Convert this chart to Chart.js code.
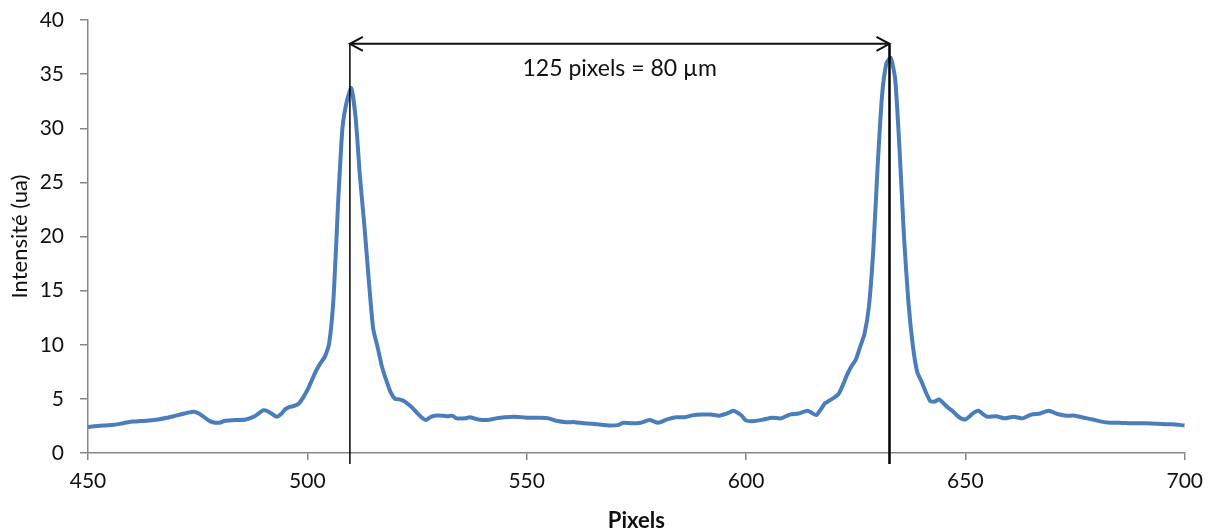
<!DOCTYPE html>
<html>
<head>
<meta charset="utf-8">
<script src="https://cdn.jsdelivr.net/npm/chart.js@4"></script>
<style>
html,body{margin:0;padding:0;background:#fff;}
#wrap{width:1212px;height:532px;}
</style>
</head>
<body>
<div id="wrap"><canvas id="c" width="1212" height="532"></canvas></div>
<script>
// Data
const pixels = [450,452,454,456,458,460,462,464,466,468,470,472,474,475,476,477,478,479,480,481,482,484,486,488,490,491,492,493,494,495,496,497,498,499,500,501,502,503,504,505,506,507,508,509,510,511,512,513,514,515,516,517,518,519,520,521,522,523,524,525,526,527,528,529,531,532,533,534,536,537,539,541,543,545,547,549,551,553,555,557,559,561,563,565,567,569,571,572,574,576,578,580,582,584,586,588,590,592,594,596,597,598,599,600,602,604,606,608,610,612,614,615,616,617,618,619,620,621,622,623,624,625,626,627,628,629,630,631,632,633,634,635,636,637,638,639,640,641,642,643,644,645,646,647,648,649,650,651,652,653,654,655,657,659,661,663,665,667,669,671,673,675,677,679,681,683,685,688,691,694,697,700];
const intensite = [2.4,2.5,2.55,2.6,2.75,2.9,2.95,3.0,3.1,3.25,3.45,3.65,3.8,3.7,3.45,3.15,2.9,2.8,2.8,2.95,3.0,3.05,3.1,3.4,3.95,3.85,3.6,3.35,3.6,4.05,4.25,4.35,4.55,5.1,5.8,6.7,7.6,8.3,8.9,10.2,14.5,23.0,30.0,32.5,33.7,31.0,25.5,21.0,16.0,11.5,9.8,8.0,6.7,5.6,5.0,4.95,4.8,4.5,4.15,3.7,3.3,3.05,3.3,3.45,3.45,3.4,3.45,3.2,3.2,3.3,3.1,3.05,3.2,3.3,3.35,3.3,3.25,3.25,3.2,2.95,2.85,2.85,2.75,2.7,2.6,2.55,2.6,2.8,2.75,2.8,3.05,2.8,3.1,3.3,3.3,3.5,3.55,3.55,3.45,3.7,3.9,3.75,3.45,3.0,2.95,3.1,3.25,3.2,3.55,3.65,3.9,3.7,3.5,4.0,4.6,4.85,5.1,5.4,6.2,7.2,8.0,8.6,9.8,11.0,13.5,18.7,26.5,33.0,36.0,36.5,34.5,28.0,20.0,14.0,10.0,7.5,6.6,5.6,4.8,4.75,4.95,4.6,4.2,3.9,3.5,3.2,3.1,3.4,3.75,3.9,3.6,3.35,3.4,3.2,3.35,3.2,3.55,3.65,3.9,3.6,3.45,3.45,3.25,3.1,2.9,2.8,2.8,2.75,2.75,2.7,2.65,2.55];
const xTicks = [450,500,550,600,650,700];
const yTicks = [0,5,10,15,20,25,30,35,40];
const markerPixels = [509.7, 632.7];
const arrowLevel = [37.8];
const annotationText = ['125 pixels = 80 µm'];

const points = pixels.map((p,i)=>({x:p,y:intensite[i]}));
const FONT = 'Lato, "Open Sans", sans-serif';

const annotPlugin = {
  id:'annot',
  afterDatasetsDraw(chart){
    const {ctx, scales:{x,y}, chartArea} = chart;
    const ay = y.getPixelForValue(arrowLevel[0]);
    const x1 = x.getPixelForValue(markerPixels[0]);
    const x2 = x.getPixelForValue(markerPixels[1]);
    const bottom = chartArea.bottom + 11;
    ctx.save();
    ctx.strokeStyle = '#000';
    ctx.lineCap = 'butt';
    ctx.lineWidth = 1.5;
    ctx.beginPath(); ctx.moveTo(x1, ay); ctx.lineTo(x1, bottom); ctx.stroke();
    ctx.lineWidth = 2.5;
    ctx.beginPath(); ctx.moveTo(x2, ay); ctx.lineTo(x2, bottom); ctx.stroke();
    // double arrow
    ctx.lineWidth = 2;
    ctx.strokeStyle = '#111';
    ctx.beginPath(); ctx.moveTo(x1, ay); ctx.lineTo(x2, ay); ctx.stroke();
    ctx.beginPath();
    ctx.moveTo(x1+13, ay-7); ctx.lineTo(x1, ay); ctx.lineTo(x1+13, ay+7);
    ctx.moveTo(x2-13, ay-7); ctx.lineTo(x2, ay); ctx.lineTo(x2-13, ay+7);
    ctx.stroke();
    ctx.fillStyle = '#111';
    ctx.font = '23px ' + FONT;
    ctx.textAlign = 'center';
    ctx.textBaseline = 'middle';
    ctx.fillText(annotationText[0], (x1+x2)/2, ay + 25);
    ctx.restore();
  }
};

new Chart(document.getElementById('c'), {
  type:'line',
  data:{datasets:[{
    data:points,
    borderColor:'#4a7ebb',
    borderWidth:4,
    pointRadius:0,
    tension:0.2,
    fill:false
  }]},
  options:{
    responsive:false,
    animation:false,
    events:[],
    layout:{padding:{top:20,right:27,left:0,bottom:0}},
    plugins:{legend:{display:false},tooltip:{enabled:false}},
    scales:{
      x:{
        type:'linear', min:450, max:700,
        afterBuildTicks(s){ s.ticks = xTicks.map(v=>({value:v})); },
        afterFit(s){ s.height = 79; },
        border:{color:'#868686', width:1.5},
        grid:{drawOnChartArea:false, drawTicks:true, tickLength:7, color:'#868686', lineWidth:1.5},
        ticks:{color:'#111', font:{family:FONT, size:21}, padding:9, maxRotation:0},
        title:{display:true, text:'Pixels', color:'#111', font:{family:FONT, size:22, weight:'bold', lineHeight:1}, padding:{top:4,bottom:0}}
      },
      y:{
        min:0, max:40,
        afterBuildTicks(s){ s.ticks = yTicks.map(v=>({value:v})); },
        afterFit(s){ s.width = 88; s.paddingTop = 0; s.paddingBottom = 0; },
        border:{color:'#868686', width:1.5},
        grid:{drawOnChartArea:false, drawTicks:true, tickLength:8, color:'#868686', lineWidth:1.5},
        ticks:{color:'#111', font:{family:FONT, size:21}, padding:16},
        title:{display:true, text:'Intensité (ua)', color:'#111', font:{family:FONT, size:22, lineHeight:1}, padding:{top:9,bottom:0}}
      }
    }
  },
  plugins:[annotPlugin]
});
</script>
</body>
</html>
